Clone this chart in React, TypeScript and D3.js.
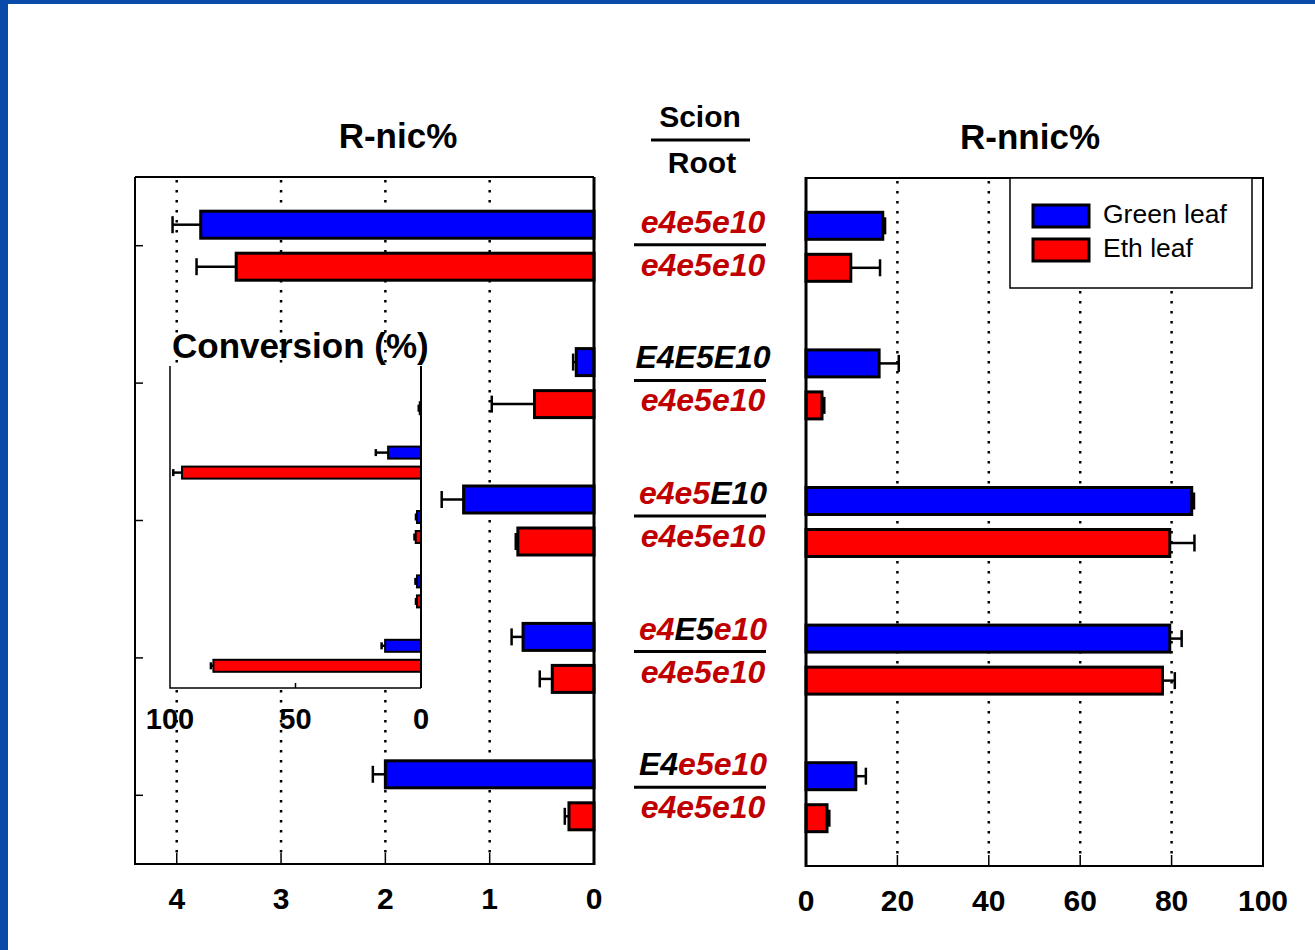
import React from 'react';
import * as d3 from 'd3';

// groups (scion / root)
const groupIds = ['g1', 'g2', 'g3', 'g4', 'g5'];
const scionParts = [
  [{ t: 'e4e5e10', rec: true }],
  [{ t: 'E4E5E10', rec: false }],
  [{ t: 'e4e5', rec: true }, { t: 'E10', rec: false }],
  [{ t: 'e4', rec: true }, { t: 'E5', rec: false }, { t: 'e10', rec: true }],
  [{ t: 'E4', rec: false }, { t: 'e5e10', rec: true }],
];
const rootLabels = ['e4e5e10', 'e4e5e10', 'e4e5e10', 'e4e5e10', 'e4e5e10'];
const seriesNames = ['Green leaf', 'Eth leaf'];
const seriesColors = ['#0000ff', '#ff0000'];

// R-nic%
const nicGreen = [3.77, 0.17, 1.25, 0.68, 2.0];
const nicGreenErr = [0.27, 0.03, 0.21, 0.11, 0.12];
const nicEth = [3.43, 0.57, 0.73, 0.4, 0.24];
const nicEthErr = [0.38, 0.41, 0.02, 0.12, 0.04];
const nicTicks = [4, 3, 2, 1, 0];

// R-nnic%
const nnicGreen = [16.8, 16.0, 84.4, 79.6, 10.9];
const nnicGreenErr = [0.5, 4.3, 0.5, 2.6, 2.2];
const nnicEth = [9.8, 3.5, 79.6, 78.0, 4.6];
const nnicEthErr = [6.4, 0.5, 5.4, 2.7, 0.5];
const nnicTicks = [0, 20, 40, 60, 80, 100];

// Conversion (%) inset
const convGreen = [0, 13.1, 1.6, 1.6, 14.3];
const convGreenErr = [0, 4.9, 0.4, 0.6, 1.4];
const convEth = [0.5, 95.2, 2.1, 1.6, 82.7];
const convEthErr = [0.4, 3.5, 0.5, 0.4, 1.0];
const convTicks = [100, 50, 0];

const FONT = "'Liberation Sans', Arial, sans-serif";
const DARKRED = '#c00000';

function Bars({ x, y, inner, vals, errs, cap, stroke }: any) {
  return (
    <g>
      {groupIds.map((g, i) =>
        seriesNames.map((s, k) => {
          const v = vals[k][i];
          const e = errs[k][i];
          const top = (y(g) as number) + y.bandwidth() / 2 + (inner(s) as number);
          const h = inner.bandwidth();
          const cy = top + h / 2;
          const x0 = x(0), x1 = x(v), x2 = x(v + e);
          return (
            <g key={g + s}>
              {v > 0 && (
                <rect x={Math.min(x0, x1)} y={top + stroke / 2} width={Math.abs(x1 - x0)} height={h - stroke}
                  fill={seriesColors[k]} stroke="#000" strokeWidth={stroke} />
              )}
              {e > 0 && (
                <g stroke="#000" strokeWidth={2.5}>
                  <line x1={x1} x2={x2} y1={cy} y2={cy} />
                  <line x1={x2} x2={x2} y1={cy - cap / 2} y2={cy + cap / 2} />
                </g>
              )}
            </g>
          );
        })
      )}
    </g>
  );
}

export default function App() {
  const xNic = d3.scaleLinear().domain([0, 4.4]).range([594, 135]);
  const xNnic = d3.scaleLinear().domain([0, 100]).range([806, 1263]);
  const xConv = d3.scaleLinear().domain([0, 100]).range([421, 170]);
  const yLeft = d3.scaleBand().domain(groupIds).range([177, 864]);
  const yRight = d3.scaleBand().domain(groupIds).range([178, 866]);
  const yInset = d3.scaleBand().domain(groupIds).range([366, 688]);
  const yLabel = d3.scaleBand().domain(groupIds).range([177, 855]);
  const innerMain = d3.scaleBand().domain(seriesNames).range([-36, 36]).paddingInner(0.286);
  const innerInset = d3.scaleBand().domain(seriesNames).range([-17, 17]).paddingInner(0.3);

  return (
    <svg width={1315} height={950} style={{ position: 'absolute', left: 0, top: 0, background: '#fff' }}
      fontFamily={FONT}>
      <rect x={0} y={0} width={1315} height={950} fill="#fff" />
      {/* frame */}
      <rect x={0} y={0} width={8} height={950} fill="#0a4aa8" />
      <rect x={0} y={0} width={1315} height={4} fill="#0a4aa8" />

      {/* titles */}
      <text x={398} y={148} fontSize={35} fontWeight="bold" textAnchor="middle">R-nic%</text>
      <text x={1030} y={149} fontSize={35} fontWeight="bold" textAnchor="middle">R-nnic%</text>
      <text x={700} y={127} fontSize={30} fontWeight="bold" textAnchor="middle">Scion</text>
      <line x1={651} x2={750} y1={140} y2={140} stroke="#000" strokeWidth={3} />
      <text x={702} y={173} fontSize={30} fontWeight="bold" textAnchor="middle">Root</text>

      {/* group labels */}
      {groupIds.map((g, i) => {
        const c = (yLabel(g) as number) + yLabel.bandwidth() / 2;
        return (
          <g key={g} fontSize={32} fontWeight="bold" fontStyle="italic">
            <text x={703} y={c - 12} textAnchor="middle">
              {scionParts[i].map((p, j) => (
                <tspan key={j} fill={p.rec ? DARKRED : '#000'}>{p.t}</tspan>
              ))}
            </text>
            <line x1={634} x2={766} y1={c} y2={c} stroke="#000" strokeWidth={3} />
            <text x={703} y={c + 31} textAnchor="middle" fill={DARKRED}>{rootLabels[i]}</text>
          </g>
        );
      })}

      {/* left panel */}
      <g>
        {nicTicks.map(t => (
          <text key={t} x={xNic(t)} y={909} fontSize={30} fontWeight="bold" textAnchor="middle">{t}</text>
        ))}
        {/* inset title and tick labels (under gridlines) */}
        <text x={172} y={358} fontSize={35} fontWeight="bold">Conversion (%)</text>
        {convTicks.map(t => (
          <text key={t} x={xConv(t)} y={729} fontSize={29} fontWeight="bold" textAnchor="middle">{t}</text>
        ))}
        {nicTicks.filter(t => t > 0).map(t => (
          <g key={t} stroke="#000">
            <line x1={xNic(t)} x2={xNic(t)} y1={180} y2={854} strokeWidth={2.5} strokeDasharray="2.5,7.5" />
            <line x1={xNic(t)} x2={xNic(t)} y1={853} y2={864} strokeWidth={1.5} />
          </g>
        ))}
        {groupIds.map(g => {
          const c = (yLeft(g) as number) + yLeft.bandwidth() / 2;
          return <line key={g} x1={135} x2={143} y1={c} y2={c} stroke="#000" strokeWidth={1.5} />;
        })}
        <Bars x={xNic} y={yLeft} inner={innerMain} vals={[nicGreen, nicEth]} errs={[nicGreenErr, nicEthErr]} cap={17} stroke={3} />
        <path d="M135,177H594M135,177V864H594" fill="none" stroke="#000" strokeWidth={2} />
        <line x1={594} x2={594} y1={177} y2={865} stroke="#000" strokeWidth={3} />

        {/* inset */}
        <rect x={170} y={366} width={251} height={322} fill="#fff" stroke="none" />
        <Bars x={xConv} y={yInset} inner={innerInset} vals={[convGreen, convEth]} errs={[convGreenErr, convEthErr]} cap={7} stroke={2} />
        <line x1={xConv(50)} x2={xConv(50)} y1={683} y2={688} stroke="#000" strokeWidth={1.5} />
        <path d="M170,366V688H421" fill="none" stroke="#000" strokeWidth={1.5} />
        <line x1={421} x2={421} y1={366} y2={688} stroke="#000" strokeWidth={2} />
      </g>

      {/* right panel */}
      <g>
        {nnicTicks.map(t => (
          <text key={t} x={xNnic(t)} y={911} fontSize={30} fontWeight="bold" textAnchor="middle">{t}</text>
        ))}
        {nnicTicks.filter(t => t > 0 && t < 100).map(t => (
          <g key={t} stroke="#000">
            <line x1={xNnic(t)} x2={xNnic(t)} y1={181} y2={856} strokeWidth={2.5} strokeDasharray="2.5,7.5" />
            <line x1={xNnic(t)} x2={xNnic(t)} y1={855} y2={866} strokeWidth={1.5} />
          </g>
        ))}
        <Bars x={xNnic} y={yRight} inner={innerMain} vals={[nnicGreen, nnicEth]} errs={[nnicGreenErr, nnicEthErr]} cap={17} stroke={3} />
        <path d="M806,178H1263V866H806" fill="none" stroke="#000" strokeWidth={2} />
        <line x1={806} x2={806} y1={177} y2={867} stroke="#000" strokeWidth={3} />

        {/* legend */}
        <rect x={1010} y={178} width={242} height={110} fill="#fff" stroke="#000" strokeWidth={1.5} />
        {seriesNames.map((s, k) => (
          <g key={s}>
            <rect x={1033} y={205 + k * 34} width={56} height={22} fill={seriesColors[k]} stroke="#000" strokeWidth={3} />
            <text x={1103} y={223 + k * 34} fontSize={26.5}>{s}</text>
          </g>
        ))}
      </g>
    </svg>
  );
}
